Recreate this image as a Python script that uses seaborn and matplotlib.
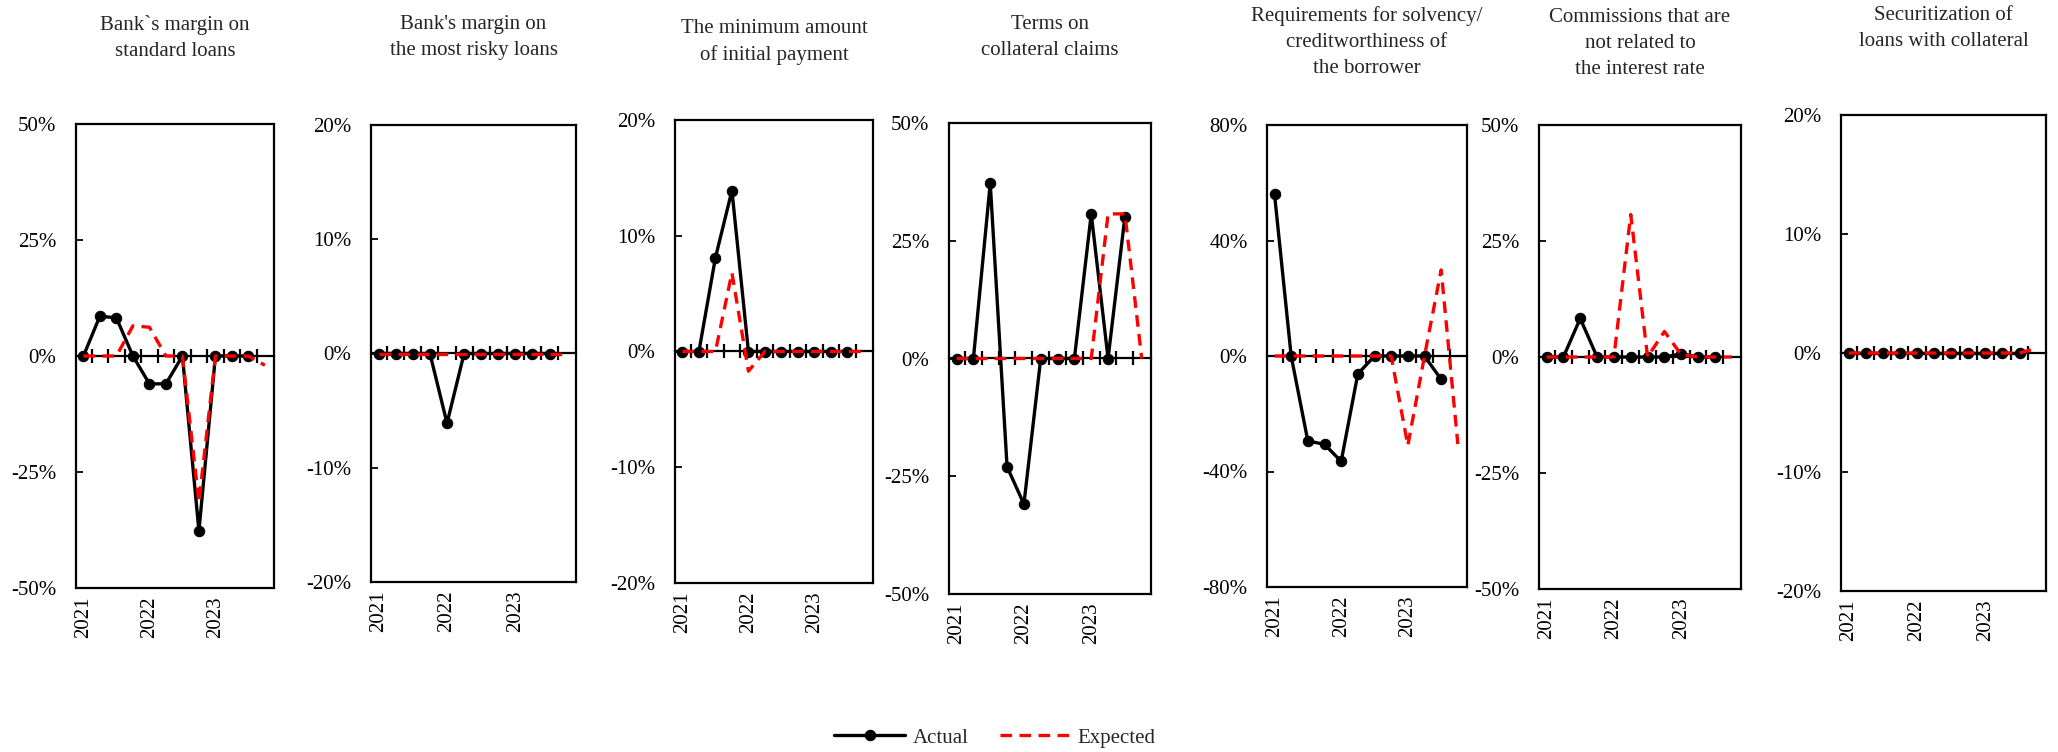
import numpy as np
import pandas as pd
import matplotlib
matplotlib.use('Agg')
import matplotlib.pyplot as plt
from matplotlib.ticker import FuncFormatter
import seaborn as sns

# quarters 2021Q1 .. 2023Q4, expected runs one quarter further than actual
quarters = ['2021Q1', '2021Q2', '2021Q3', '2021Q4',
            '2022Q1', '2022Q2', '2022Q3', '2022Q4',
            '2023Q1', '2023Q2', '2023Q3', '2023Q4']
year_labels = ['2021', '2022', '2023']

titles = [
    'Bank`s margin on\nstandard loans',
    "Bank's margin on\nthe most risky loans",
    'The minimum amount\nof initial payment',
    'Terms on\ncollateral claims',
    'Requirements for solvency/\ncreditworthiness of\nthe borrower',
    'Commissions that are\nnot related to\nthe interest rate',
    'Securitization of\nloans with collateral',
]

actual_standard = [0, 8.6, 8.2, 0, -6.0, -6.0, 0, -37.7, 0, 0, 0]
expected_standard = [0, 0, 0, 6.5, 6.2, 0, 0, -31.5, 0, 0, 0, -2.0]

actual_risky = [0, 0, 0, 0, -6.1, 0, 0, 0, 0, 0, 0]
expected_risky = [0, 0, 0, 0, 0, 0, 0, 0, 0, 0, 0, 0]

actual_payment = [0, 0, 8.1, 13.9, 0, 0, 0, 0, 0, 0, 0]
expected_payment = [0, 0, 0, 6.8, -1.7, 0, 0, 0, 0, 0, 0, 0]

actual_collateral = [0, 0, 37.2, -23.0, -30.9, 0, 0, 0, 30.7, 0, 30.1]
expected_collateral = [0, 0, 0, 0, 0, 0, 0, 0, 0, 30.7, 30.7, 0]

actual_solvency = [56.1, 0, -29.4, -30.6, -36.5, -6.2, 0, 0, 0, 0, -8.1]
expected_solvency = [0, 0, 0, 0, 0, 0, 0, 0, -31.0, 0, 29.8, -30.5]

actual_commissions = [0, 0, 8.3, 0, 0, 0, 0, 0, 0.7, 0, 0]
expected_commissions = [0, 0, 0, 0, 0, 30.7, 0, 5.5, 0.5, 0, 0, 0]

actual_securitization = [0, 0, 0, 0, 0, 0, 0, 0, 0, 0, 0]
expected_securitization = [0, 0, 0, 0, 0, 0, 0, 0, 0, 0, 0, 0.4]

actuals = [actual_standard, actual_risky, actual_payment, actual_collateral,
           actual_solvency, actual_commissions, actual_securitization]
expecteds = [expected_standard, expected_risky, expected_payment, expected_collateral,
             expected_solvency, expected_commissions, expected_securitization]

y_limits = [50, 20, 20, 50, 80, 50, 20]
y_steps = [25, 10, 10, 25, 40, 25, 10]

# panel boxes in pixels (left, right, top, bottom) and title top
W, H = 2058, 752
boxes = [(76, 274, 124, 588), (371, 576, 125, 582), (675, 873, 120, 583),
         (949, 1151, 123, 594), (1267, 1467, 125, 587), (1539, 1741, 125, 589),
         (1841, 2046, 115, 591)]
title_tops = [15, 15, 19, 15, 6, 8, 6]

sns.set_theme(style='white')
plt.rcParams['font.family'] = ['Liberation Serif', 'DejaVu Serif']
plt.rcParams['font.size'] = 15
plt.rcParams['axes.unicode_minus'] = False

fig = plt.figure(figsize=(W / 100, H / 100), dpi=100)

pct = FuncFormatter(lambda v, p: f'{v:.0f}%')

for i in range(len(titles)):
    l, r, t, b = boxes[i]
    ax = fig.add_axes([l / W, 1 - b / H, (r - l) / W, (b - t) / H])

    df_act = pd.DataFrame({'quarter': np.arange(len(actuals[i])), 'value': actuals[i]})
    df_exp = pd.DataFrame({'quarter': np.arange(len(expecteds[i])), 'value': expecteds[i]})

    sns.lineplot(data=df_act, x='quarter', y='value', ax=ax, color='black', linewidth=2.4,
                 marker='o', markersize=7.5, markeredgecolor='black', errorbar=None,
                 label='Actual', legend=False, zorder=3)
    sns.lineplot(data=df_exp, x='quarter', y='value', ax=ax, color='red', linewidth=2.4,
                 errorbar=None, label='Expected', legend=False, zorder=4)
    ax.lines[-1].set_dashes((3.5, 2.2))

    lim = y_limits[i]
    ax.set_xlim(-0.45, 11.55)
    ax.set_ylim(-lim, lim)
    ax.set_yticks(np.arange(-lim, lim + 1, y_steps[i]))
    ax.yaxis.set_major_formatter(pct)
    ax.tick_params(axis='y', left=True, direction='in', length=5, width=1.3,
                   pad=14, labelsize=15, colors='black')
    ax.set_xticks([0, 4, 8])
    ax.set_xticklabels(year_labels, rotation=90)
    ax.tick_params(axis='x', bottom=True, length=0, pad=6, labelsize=15, colors='black')
    ax.set_xlabel('')
    ax.set_ylabel('')
    for s in ax.spines.values():
        s.set_visible(True)
        s.set_color('black')
        s.set_linewidth(1.6)

    # zero line with cross ticks between quarters
    sec = ax.secondary_xaxis(0.5)
    sec.set_xticks(np.arange(0.5, 11, 1))
    sec.tick_params(axis='x', top=True, bottom=False, direction='inout', length=10, width=1.6,
                    labeltop=False, labelbottom=False, colors='black')
    for s in sec.spines.values():
        s.set_color('black')
        s.set_linewidth(1.6)

    fig.text((l + r) / 2 / W, 1 - title_tops[i] / H, titles[i], ha='center', va='top',
             fontsize=15, linespacing=1.5)

    if i == 0:
        handles, labels = ax.get_legend_handles_labels()

fig.legend(handles[:2], labels[:2], loc='center', bbox_to_anchor=(0.4835, 0.019), ncol=2,
           frameon=False, handlelength=3.4, handletextpad=0.35, columnspacing=1.5, fontsize=15)

fig.savefig('out.png', dpi=100)
